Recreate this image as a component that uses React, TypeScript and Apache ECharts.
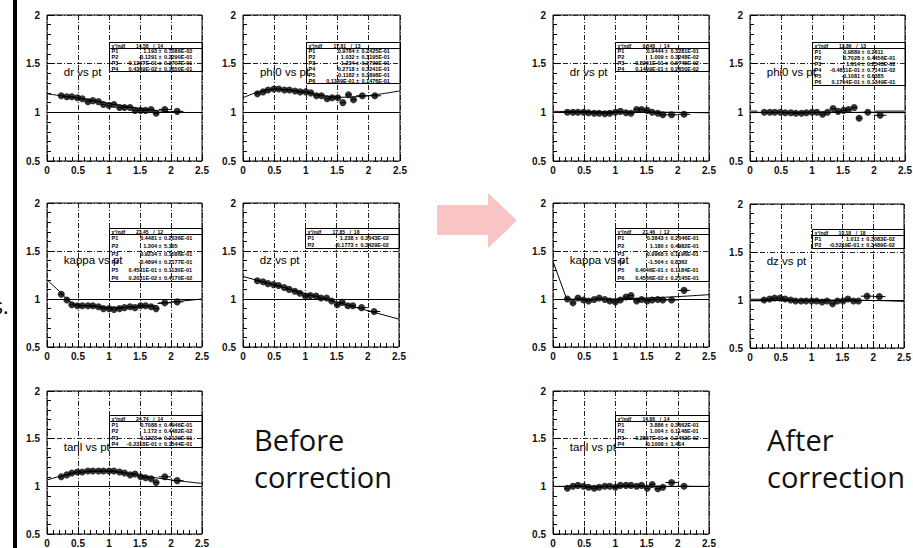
import React, { useEffect, useRef } from "react";
import * as echarts from "echarts";

// ---------------- DATA ----------------
const PT = [0.23, 0.32, 0.40, 0.49, 0.57, 0.66, 0.74, 0.83, 0.91, 1.00, 1.08, 1.17, 1.25, 1.34, 1.42, 1.51, 1.59, 1.68, 1.76, 1.90, 2.10];
const PT_ERR = [0.04, 0.04, 0.04, 0.04, 0.04, 0.04, 0.04, 0.04, 0.04, 0.04, 0.04, 0.04, 0.04, 0.04, 0.04, 0.04, 0.04, 0.04, 0.04, 0.1, 0.1];

const DR_BEFORE = [1.17, 1.16, 1.16, 1.15, 1.14, 1.11, 1.12, 1.11, 1.08, 1.07, 1.08, 1.05, 1.05, 1.05, 1.02, 1.02, 1.02, 1.03, 0.99, 1.03, 1.01];
const PHI0_BEFORE = [1.19, 1.21, 1.23, 1.24, 1.24, 1.23, 1.23, 1.22, 1.21, 1.21, 1.2, 1.17, 1.17, 1.14, 1.15, 1.15, 1.1, 1.18, 1.13, 1.17, 1.17];
const KAPPA_BEFORE = [1.05, 0.99, 0.94, 0.93, 0.93, 0.93, 0.93, 0.92, 0.9, 0.9, 0.89, 0.9, 0.91, 0.92, 0.91, 0.93, 0.93, 0.92, 0.9, 0.96, 0.97];
const DZ_BEFORE = [1.19, 1.18, 1.16, 1.15, 1.14, 1.12, 1.1, 1.08, 1.06, 1.03, 1.035, 1.03, 1.01, 1.01, 0.98, 0.94, 0.965, 0.93, 0.93, 0.91, 0.87];
const TANL_BEFORE = [1.1, 1.12, 1.14, 1.15, 1.15, 1.16, 1.16, 1.16, 1.16, 1.16, 1.16, 1.15, 1.14, 1.12, 1.13, 1.1, 1.09, 1.08, 1.04, 1.1, 1.06];

const DR_AFTER = [1.0, 1.0, 1.0, 1.0, 0.995, 0.99, 0.99, 0.985, 0.99, 1.0, 1.01, 0.995, 0.99, 1.03, 1.03, 1.02, 1.0, 0.99, 0.975, 0.975, 0.98];
const PHI0_AFTER = [1.0, 1.0, 1.0, 1.0, 0.995, 0.995, 0.99, 0.99, 0.995, 1.0, 1.0, 0.98, 1.0, 1.04, 1.01, 1.02, 1.03, 1.05, 0.94, 1.0, 0.97];
const KAPPA_AFTER = [1.0, 0.96, 1.01, 0.99, 0.98, 0.995, 1.01, 0.995, 0.98, 0.97, 0.99, 1.02, 1.035, 0.98, 0.995, 0.98, 0.99, 0.995, 0.99, 0.99, 1.09];
const DZ_AFTER = [1.0, 1.01, 1.02, 1.02, 1.01, 1.0, 0.99, 0.99, 0.99, 0.99, 0.99, 0.98, 0.99, 0.96, 0.99, 0.99, 1.01, 0.99, 0.99, 1.04, 1.035];
const TANL_AFTER = [0.98, 1.0, 1.01, 1.0, 0.99, 0.98, 0.99, 1.0, 1.0, 0.99, 1.01, 1.01, 1.01, 1.0, 1.01, 0.98, 1.02, 0.975, 0.99, 1.04, 1.0];

// fit curves, as segments of points
const FIT_DR_BEFORE = [[[0, 1.19], [0.4, 1.155], [0.8, 1.115], [1.2, 1.07], [1.6, 1.03], [2.0, 1.005], [2.27, 0.998]]];
const FIT_PHI0_BEFORE = [[[0, 1.15], [0.2, 1.2], [0.45, 1.235], [0.7, 1.23], [1.0, 1.205], [1.3, 1.17], [1.55, 1.155], [1.8, 1.16], [2.1, 1.18], [2.5, 1.22]]];
const FIT_KAPPA_BEFORE = [
  [[0, 1.2], [0.1, 1.14], [0.2, 1.08], [0.3, 1.01], [0.4, 0.96], [0.5, 0.935], [0.7, 0.925], [1.0, 0.912], [1.3, 0.913], [1.6, 0.925], [1.76, 0.93]],
  [[1.78, 0.952], [2.5, 1.0]],
];
const FIT_DZ_BEFORE = [[[0, 1.235], [2.5, 0.79]]];
const FIT_TANL_BEFORE = [[[0, 1.066], [0.3, 1.12], [0.6, 1.15], [0.9, 1.16], [1.2, 1.145], [1.5, 1.115], [1.8, 1.085], [2.1, 1.06], [2.5, 1.03]]];
const FIT_DR_AFTER = [[[0, 1.01], [1.0, 1.005], [2.0, 1.0], [2.5, 0.995]]];
const FIT_PHI0_AFTER = [[[0, 1.0], [2.5, 1.0]]];
const FIT_KAPPA_AFTER = [
  [[0, 1.39], [0.22, 1.0]],
  [[0.22, 1.0], [0.6, 0.995], [1.0, 1.0], [1.5, 1.01], [2.0, 1.025], [2.5, 1.045]],
];
const FIT_DZ_AFTER = [[[0, 1.0], [1.0, 1.0], [2.0, 0.995], [2.5, 0.985]]];
const FIT_TANL_AFTER = [[[0, 1.0], [2.5, 1.0]]];

const BAND_PHI0_AFTER = [[[0, 1.007], [0.12, 1.007]], [[2.0, 1.007], [2.5, 1.007]]];
const BAND_DZ_AFTER = [[[0, 1.0], [0.25, 1.0]]];

const TITLES = ["dr vs pt", "phi0 vs pt", "kappa vs pt", "dz vs pt", "tanl vs pt", "dr vs pt", "phi0 vs pt", "kappa vs pt", "dz vs pt", "tanl vs pt"];
const CHI2 = ["14.58", "17.81", "23.45", "17.85", "24.74", "9.548", "13.86", "21.46", "10.18", "14.86"];
const NDF = ["14", "13", "12", "18", "14", "14", "13", "12", "18", "14"];

const ST_DR_BEFORE = [["P1", "1.193", "0.7086E-02"], ["P2", "-0.1291", "0.2290E-01"], ["P3", "0.1207E-01", "0.3707E-01"], ["P4", "0.4309E-02", "0.1650E-01"]];
const ST_PHI0_BEFORE = [["P1", "0.9784", "0.2425E-01"], ["P2", "1.032", "0.3195E-01"], ["P3", "1.234", "0.3799E-01"], ["P4", "0.2718", "0.3241E-01"], ["P5", "-0.1182", "0.3898E-01"], ["P6", "0.1349E-01", "0.1476E-01"]];
const ST_KAPPA_BEFORE = [["P1", "0.4481", "0.2036E-01"], ["P2", "1.304", "5.105"], ["P3", "0.9234", "0.1586E-01"], ["P4", "-0.4894", "0.2177E-01"], ["P5", "0.4531E-01", "0.1130E-01"], ["P6", "0.2031E-02", "0.4170E-02"]];
const ST_DZ_BEFORE = [["P1", "1.238", "0.3043E-02"], ["P2", "-0.1773", "0.3429E-02"]];
const ST_TANL_BEFORE = [["P1", "0.7088", "0.4946E-01"], ["P2", "1.172", "0.4482E-02"], ["P3", "0.1223", "0.2129E-01"], ["P4", "-0.2318E-01", "0.1544E-01"]];
const ST_DR_AFTER = [["P1", "0.9444", "0.3281E-01"], ["P2", "1.009", "0.3248E-02"], ["P3", "-0.8261E-01", "0.5745E-02"], ["P4", "0.1499E-01", "0.2650E-02"]];
const ST_PHI0_AFTER = [["P1", "0.9889", "0.2611"], ["P2", "0.7028", "0.4456E-01"], ["P3", "1.014", "0.2543E-02"], ["P4", "-0.4811E-01", "0.7141E-02"], ["P5", "-0.1081", "0.6385"], ["P6", "0.1764E-01", "0.1349E-01"]];
const ST_KAPPA_AFTER = [["P1", "0.3843", "0.2046E-01"], ["P2", "1.180", "0.4982E-01"], ["P3", "0.9968", "0.1196E-01"], ["P4", "-1.504", "0.8362"], ["P5", "0.4046E-01", "0.1184E-01"], ["P6", "0.4566E-02", "0.2145E-01"]];
const ST_DZ_AFTER = [["P1", "1.011", "0.3083E-02"], ["P2", "-0.5219E-01", "0.3489E-02"]];
const ST_TANL_AFTER = [["P1", "3.886", "0.3662E-01"], ["P2", "1.004", "0.1148E-01"], ["P3", "-0.3857E-01", "0.2462E-02"], ["P4", "-0.1008", "1.414"]];

// ---------------- LAYOUT ----------------
const X_MIN = 0, X_MAX = 2.5, Y_MIN = 0.5, Y_MAX = 2.0;

const GRIDS = [
  { left: 47, top: 15, width: 155, height: 146 },
  { left: 243, top: 15, width: 157, height: 146 },
  { left: 47, top: 203, width: 155, height: 144 },
  { left: 243, top: 203, width: 156, height: 144 },
  { left: 47, top: 391, width: 155, height: 143 },
  { left: 553, top: 15, width: 156, height: 146 },
  { left: 750, top: 15, width: 155, height: 146 },
  { left: 553, top: 203, width: 156, height: 144 },
  { left: 750, top: 204, width: 154, height: 144 },
  { left: 553, top: 391, width: 156, height: 143 },
];

const STAT_BOX = [
  { left: 1.0, top: 1.72, bottom: 1.42 },
  { left: 1.0, top: 1.72, bottom: 1.3 },
  { left: 1.0, top: 1.74, bottom: 1.19 },
  { left: 1.0, top: 1.74, bottom: 1.53 },
  { left: 1.0, top: 1.75, bottom: 1.41 },
  { left: 1.0, top: 1.72, bottom: 1.42 },
  { left: 1.0, top: 1.72, bottom: 1.28 },
  { left: 1.0, top: 1.74, bottom: 1.19 },
  { left: 1.0, top: 1.74, bottom: 1.54 },
  { left: 1.0, top: 1.75, bottom: 1.41 },
];

const TITLE_POS = { x: 0.27, y: 1.41 };

const PLOTS = [
  { y: DR_BEFORE, fit: FIT_DR_BEFORE, band: [] as number[][][], stats: ST_DR_BEFORE },
  { y: PHI0_BEFORE, fit: FIT_PHI0_BEFORE, band: [], stats: ST_PHI0_BEFORE },
  { y: KAPPA_BEFORE, fit: FIT_KAPPA_BEFORE, band: [], stats: ST_KAPPA_BEFORE },
  { y: DZ_BEFORE, fit: FIT_DZ_BEFORE, band: [], stats: ST_DZ_BEFORE },
  { y: TANL_BEFORE, fit: FIT_TANL_BEFORE, band: [], stats: ST_TANL_BEFORE },
  { y: DR_AFTER, fit: FIT_DR_AFTER, band: [], stats: ST_DR_AFTER },
  { y: PHI0_AFTER, fit: FIT_PHI0_AFTER, band: BAND_PHI0_AFTER, stats: ST_PHI0_AFTER },
  { y: KAPPA_AFTER, fit: FIT_KAPPA_AFTER, band: [], stats: ST_KAPPA_AFTER },
  { y: DZ_AFTER, fit: FIT_DZ_AFTER, band: BAND_DZ_AFTER, stats: ST_DZ_AFTER },
  { y: TANL_AFTER, fit: FIT_TANL_AFTER, band: [], stats: ST_TANL_AFTER },
];

const AXIS_FONT = "Liberation Sans";
const BIG_FONT = "Open Sans";

function px(i: number, x: number, y: number): [number, number] {
  const g = GRIDS[i];
  return [
    g.left + ((x - X_MIN) / (X_MAX - X_MIN)) * g.width,
    g.top + ((Y_MAX - y) / (Y_MAX - Y_MIN)) * g.height,
  ];
}

function txt(x: number, y: number, text: string, size: number, opts: any = {}) {
  return {
    type: "text",
    x,
    y,
    z: opts.z ?? 100,
    silent: true,
    style: {
      text,
      fontSize: size,
      fontFamily: opts.family ?? AXIS_FONT,
      fontWeight: opts.weight ?? "normal",
      fill: opts.fill ?? "#000",
      align: opts.align ?? "left",
      verticalAlign: "middle",
      textAlign: opts.align ?? "left",
      textVerticalAlign: "middle",
    },
  };
}

function buildGraphic() {
  const els: any[] = [];
  // left black bar
  els.push({ type: "rect", shape: { x: 13, y: 0, width: 4, height: 548 }, style: { fill: "#000" }, silent: true });
  els.push(txt(-7, 306, "s.", 21, { family: BIG_FONT }));
  // arrow
  els.push({
    type: "polygon",
    shape: { points: [[437, 205], [488, 205], [488, 193], [517, 220.5], [488, 248], [488, 235], [437, 235]] },
    style: { fill: "#f9c4c4" },
    silent: true,
  });
  // big captions
  els.push(txt(254, 439, "Before", 29, { family: BIG_FONT, fill: "#111" }));
  els.push(txt(254, 476, "correction", 29, { family: BIG_FONT, fill: "#111" }));
  els.push(txt(767, 439, "After", 29, { family: BIG_FONT, fill: "#111" }));
  els.push(txt(767, 476, "correction", 29, { family: BIG_FONT, fill: "#111" }));

  PLOTS.forEach((p, i) => {
    const b = STAT_BOX[i];
    const [x0r, y0r] = px(i, b.left, b.top);
    const [x1r, y1r] = px(i, X_MAX, b.bottom);
    const x0 = Math.round(x0r) + 0.5, y0 = Math.round(y0r) + 0.5;
    const x1 = Math.round(x1r) + 0.5, y1 = Math.round(y1r) + 0.5;
    const w = x1 - x0, h = y1 - y0;
    els.push({
      type: "rect",
      shape: { x: x0, y: y0, width: w, height: h },
      style: { fill: "rgba(255,255,255,0)", stroke: "#000", lineWidth: 1 },
      silent: true,
      z: 90,
    });
    const head = 6;
    els.push({
      type: "line",
      shape: { x1: x0, y1: y0 + head, x2: x1, y2: y0 + head },
      style: { stroke: "#000", lineWidth: 1 },
      silent: true,
      z: 90,
    });
    els.push(txt(x0 + 2, y0 + 3, "χ²/ndf", 5, { weight: "bold", z: 91 }));
    els.push(txt(x0 + w * 0.42, y0 + 3, CHI2[i], 5, { weight: "bold", align: "right", z: 91 }));
    els.push(txt(x0 + w * 0.47, y0 + 3, "/  " + NDF[i], 5, { weight: "bold", z: 91 }));
    const n = p.stats.length;
    const rowH = (h - head) / n;
    p.stats.forEach((r, k) => {
      const cy = y0 + head + rowH * (k + 0.5);
      els.push(txt(x0 + 2, cy, r[0], 5.5, { weight: "bold", z: 91 }));
      els.push(txt(x0 + w * 0.56, cy, r[1] + " ±", 5.5, { weight: "bold", align: "right", z: 91 }));
      els.push(txt(x0 + w * 0.585, cy, r[2], 5.5, { weight: "bold", z: 91 }));
    });
    // plot title
    const [tx, ty] = px(i, TITLE_POS.x, TITLE_POS.y);
    els.push(txt(tx, ty, TITLES[i], 11.5, { z: 95 }));
  });
  return els;
}

function buildOption() {
  const grid = GRIDS.map((g) => ({
    left: g.left,
    top: g.top,
    width: g.width,
    height: g.height,
    show: true,
    borderColor: "#000",
    borderWidth: 1,
    backgroundColor: "transparent",
    containLabel: false,
    outerBoundsMode: "none",
  }));
  const labelStyle = { fontSize: 10, fontWeight: "bold", fontFamily: AXIS_FONT, color: "#111" };
  const gridLine = { show: true, lineStyle: { color: "#222", width: 1, type: [5, 2, 1, 2] } };
  const xAxis = GRIDS.map((_, i) => ({
    gridIndex: i,
    type: "value",
    min: X_MIN,
    max: X_MAX,
    interval: 0.5,
    axisLine: { show: false },
    axisTick: { show: true, inside: true, length: 7, lineStyle: { color: "#000" } },
    minorTick: { show: true, splitNumber: 5, length: 4, lineStyle: { color: "#000" } },
    minorSplitLine: { show: false },
    axisLabel: { ...labelStyle, margin: 4 },
    splitLine: gridLine,
  }));
  const yAxis = GRIDS.map((_, i) => ({
    gridIndex: i,
    type: "value",
    min: Y_MIN,
    max: Y_MAX,
    interval: 0.5,
    axisLine: { show: false },
    axisTick: { show: true, inside: true, length: 7, lineStyle: { color: "#000" } },
    minorTick: { show: true, splitNumber: 5, length: 4, lineStyle: { color: "#000" } },
    minorSplitLine: { show: false },
    axisLabel: { ...labelStyle, margin: 7 },
    splitLine: gridLine,
  }));

  const series: any[] = [];
  PLOTS.forEach((p, i) => {
    p.band.forEach((seg) => {
      series.push({
        type: "line",
        xAxisIndex: i,
        yAxisIndex: i,
        data: seg,
        showSymbol: false,
        silent: true,
        lineStyle: { color: "#777", width: 3 },
        z: 2,
      });
    });
    p.fit.forEach((seg) => {
      series.push({
        type: "line",
        xAxisIndex: i,
        yAxisIndex: i,
        data: seg,
        showSymbol: false,
        silent: true,
        smooth: seg.length > 2 ? 0.35 : false,
        lineStyle: { color: "#000", width: 1 },
        z: 3,
      });
    });
    series.push({
      type: "custom",
      xAxisIndex: i,
      yAxisIndex: i,
      silent: true,
      z: 4,
      encode: { x: 0, y: 1 },
      data: PT.map((x, k) => [x, p.y[k], PT_ERR[k]]),
      renderItem: (_params: any, api: any) => {
        const x = api.value(0), y = api.value(1), e = api.value(2);
        const a = api.coord([x - e, y]);
        const c = api.coord([x + e, y]);
        return {
          type: "line",
          shape: { x1: a[0], y1: a[1], x2: c[0], y2: c[1] },
          style: { stroke: "#000", lineWidth: 1 },
        };
      },
    });
    series.push({
      type: "scatter",
      xAxisIndex: i,
      yAxisIndex: i,
      data: PT.map((x, k) => [x, p.y[k]]),
      symbol: "circle",
      symbolSize: 7,
      itemStyle: { color: "#000" },
      silent: true,
      z: 5,
      markLine: {
        silent: true,
        symbol: "none",
        label: { show: false },
        lineStyle: { color: "#000", type: "solid", width: 1 },
        data: [{ yAxis: 1 }],
      },
    });
  });

  return {
    animation: false,
    backgroundColor: "#fff",
    grid,
    xAxis,
    yAxis,
    series,
    graphic: { elements: buildGraphic() },
  };
}

export default function App() {
  const ref = useRef<HTMLDivElement>(null);
  useEffect(() => {
    if (!ref.current) return;
    const chart = echarts.init(ref.current, null, { renderer: "svg" });
    chart.setOption(buildOption() as any);
    return () => chart.dispose();
  }, []);
  return (
    <div
      ref={ref}
      style={{ position: "absolute", left: 0, top: 0, width: 913, height: 548, background: "#fff" }}
    />
  );
}
